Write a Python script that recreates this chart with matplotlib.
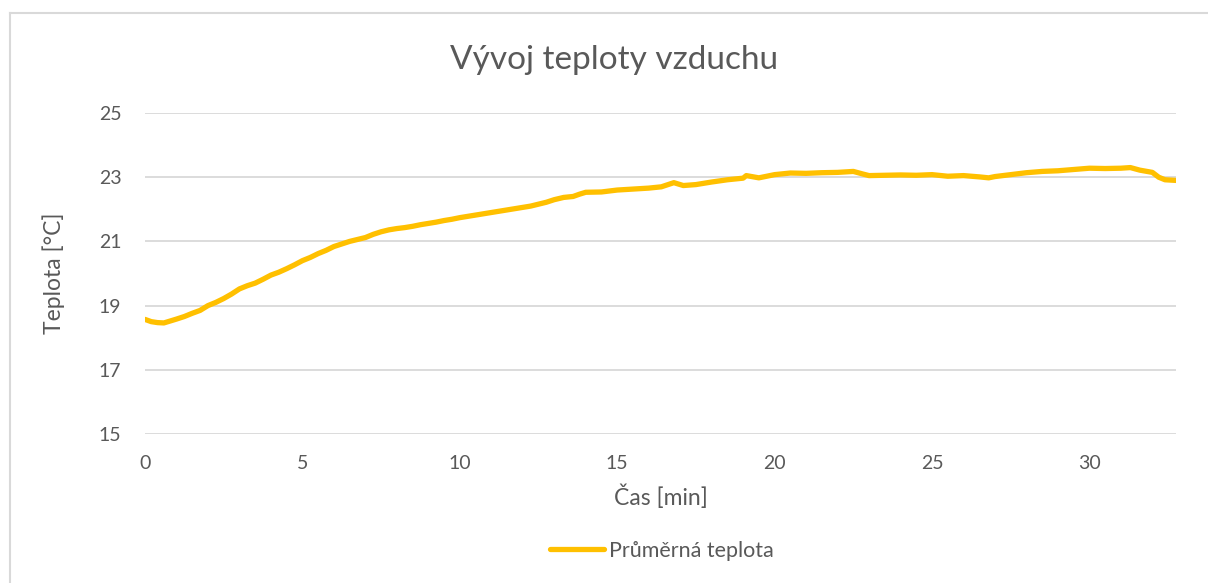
import matplotlib
matplotlib.use("Agg")
import matplotlib.pyplot as plt
from matplotlib.lines import Line2D

# ---- data ----
time_min = [0.0, 0.2, 0.4, 0.6, 0.8, 1.0, 1.25, 1.5, 1.75, 2.0, 2.25, 2.5, 2.75,
            3.0, 3.25, 3.5, 3.75, 4.0, 4.25, 4.5, 4.75, 5.0, 5.25, 5.5, 5.75,
            6.0, 6.25, 6.5, 6.75, 7.0, 7.25, 7.5, 7.75, 8.0, 8.25, 8.5, 8.75,
            9.0, 9.25, 9.5, 9.75, 10.0, 10.25, 10.5, 10.75, 11.0, 11.25, 11.5,
            11.75, 12.0, 12.25, 12.5, 12.75, 13.0, 13.3, 13.6, 13.8, 14.0, 14.5,
            15.0, 15.5, 16.0, 16.4, 16.8, 17.1, 17.5, 18.0, 18.5, 19.0, 19.1,
            19.5, 20.0, 20.5, 21.0, 21.5, 22.0, 22.5, 22.8, 23.0, 23.5, 24.0,
            24.5, 25.0, 25.5, 26.0, 26.5, 26.8, 27.0, 27.5, 28.0, 28.5, 29.0,
            29.5, 30.0, 30.5, 31.0, 31.3, 31.6, 32.0, 32.2, 32.4, 32.75]
temp_c = [18.57, 18.50, 18.47, 18.46, 18.52, 18.58, 18.66, 18.76, 18.85, 19.0,
          19.1, 19.22, 19.36, 19.52, 19.62, 19.7, 19.82, 19.95, 20.04, 20.15,
          20.27, 20.4, 20.5, 20.62, 20.72, 20.84, 20.92, 21.0, 21.06, 21.12,
          21.22, 21.3, 21.36, 21.4, 21.43, 21.47, 21.52, 21.56, 21.6, 21.65,
          21.69, 21.74, 21.78, 21.82, 21.86, 21.9, 21.94, 21.98, 22.02, 22.06,
          22.1, 22.16, 22.22, 22.3, 22.37, 22.4, 22.47, 22.53, 22.54, 22.6,
          22.63, 22.66, 22.7, 22.83, 22.74, 22.77, 22.85, 22.92, 22.97, 23.05,
          22.98, 23.08, 23.13, 23.12, 23.14, 23.15, 23.18, 23.1, 23.05, 23.06,
          23.07, 23.06, 23.08, 23.03, 23.05, 23.01, 22.98, 23.02, 23.08, 23.14,
          23.18, 23.2, 23.24, 23.28, 23.27, 23.28, 23.3, 23.22, 23.15, 23.0,
          22.92, 22.9]
y_ticks = [15, 17, 19, 21, 23, 25]
x_ticks = [0, 5, 10, 15, 20, 25, 30]

title = "Vývoj teploty vzduchu"
x_label = "Čas [min]"
y_label = "Teplota [°C]"
series_label = "Průměrná teplota"

# ---- styling ----
plt.rcParams['font.family'] = ['Lato', 'DejaVu Sans']
text_col = "#595959"
grid_col = "#D9D9D9"
line_col = "#FFC000"

W, H = 1208, 583
fig = plt.figure(figsize=(W / 100, H / 100), dpi=100)
ax = fig.add_axes([145 / W, 1 - 434 / H, (1176 - 145) / W, (434 - 113) / H])

ax.plot(time_min, temp_c, color=line_col, lw=3.8, solid_capstyle='round',
        solid_joinstyle='round', label=series_label, zorder=3)

ax.set_xlim(0, time_min[-1])
ax.set_ylim(y_ticks[0], y_ticks[-1])
ax.set_xticks(x_ticks)
ax.set_yticks(y_ticks)
ax.grid(axis='y', color=grid_col, lw=1.3)
ax.set_axisbelow(True)
for s in ax.spines.values():
    s.set_visible(False)
ax.tick_params(axis='both', length=0, colors=text_col, labelsize=14)
ax.tick_params(axis='y', pad=17)
ax.tick_params(axis='x', pad=15)

ax.set_xlabel(x_label, fontsize=16.5, color=text_col, labelpad=9)
ax.set_ylabel(y_label, fontsize=16.5, color=text_col, labelpad=24)

fig.text(614 / W, 1 - 60 / H, title, ha='center', va='center',
         fontsize=24, color=text_col)

leg = fig.legend(loc='center', bbox_to_anchor=(662 / W, 1 - 551 / H),
                 frameon=False, fontsize=15.5, handlelength=2.5,
                 handletextpad=0.25)
for t in leg.get_texts():
    t.set_color(text_col)

# outer chart frame (cropped at right and bottom)
fig.add_artist(Line2D([10 / W, 10 / W], [0, 1 - 13 / H], color=grid_col,
                      lw=1.5, transform=fig.transFigure))
fig.add_artist(Line2D([10 / W, 1], [1 - 13 / H, 1 - 13 / H], color=grid_col,
                      lw=1.5, transform=fig.transFigure))

fig.savefig("out.png", dpi=100, facecolor='white')
